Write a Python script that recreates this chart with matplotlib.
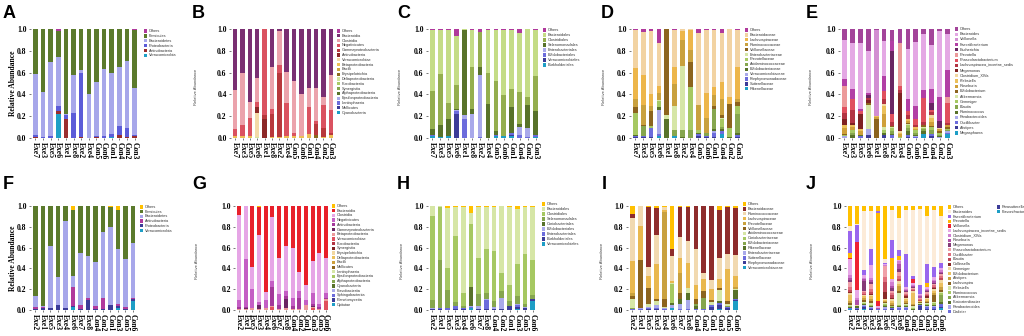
import matplotlib
matplotlib.use('Agg')
import matplotlib.pyplot as plt
from matplotlib.patches import Rectangle
import numpy as np

W, H = 1024, 336

# sample order, top row and bottom row
samples_top = ['Exe7', 'Exe3', 'Exe5', 'Exe6', 'Exe1', 'Exe8', 'Exe2', 'Exe4',
               'Con5', 'Con6', 'Con1', 'Con4', 'Con2', 'Con3']
samples_bot = ['Exe2', 'Exe1', 'Exe5', 'Exe3', 'Exe4', 'Exe6', 'Exe7', 'Exe8',
               'Con4', 'Con2', 'Con1', 'Con3', 'Con5', 'Con6']

# ---------------- A: phylum (top row) ----------------
a_cats = ['Others', 'Firmicutes', 'Bacteroidetes', 'Proteobacteria', 'Actinobacteria', 'Verrucomicrobia']
a_colors = ['#B0399C', '#5B7A2C', '#A7A7EA', '#5C5CD8', '#9A2E2E', '#1EA0C6']
a_vals = [
    [0, 0, 0, 0.02, 0, 0, 0, 0, 0, 0, 0, 0, 0, 0.01],
    [0.41, 0.58, 0.30, 0.24, 0.78, 0.42, 0.38, 0.60, 0.49, 0.37, 0.40, 0.35, 0.29, 0.53],
    [0.56, 0.41, 0.68, 0.45, 0.01, 0.35, 0.02, 0.40, 0.49, 0.61, 0.56, 0.54, 0.62, 0.43],
    [0.02, 0.01, 0.02, 0.04, 0.04, 0.23, 0.59, 0, 0.01, 0.02, 0.03, 0.08, 0.08, 0.01],
    [0.01, 0, 0, 0.03, 0.17, 0, 0.01, 0, 0.01, 0, 0, 0.03, 0.01, 0.02],
    [0, 0, 0, 0.22, 0, 0, 0, 0, 0, 0, 0.01, 0, 0, 0],
]

# ---------------- B: class (top row) ----------------
b_cats = ['Others', 'Bacteroidia', 'Clostridia', 'Negativicutes', 'Gammaproteobacteria',
          'Actinobacteria', 'Verrucomicrobiae', 'Betaproteobacteria', 'Bacilli',
          'Erysipelotrichia', 'Deltaproteobacteria', 'Fusobacteriia', 'Synergistia',
          'Alphaproteobacteria', 'Epsilonproteobacteria', 'Lentisphaeria', 'Mollicutes',
          'Cyanobacteria']
b_colors = ['#B0399C', '#7A2F72', '#EBA3AC', '#DA5260', '#B8383C', '#8C2828', '#F3DAA8',
            '#EDBE55', '#CFA640', '#8C6A1E', '#D2E4A0', '#AACA66', '#86A64E', '#58722A',
            '#A9A9EA', '#6C6CDC', '#3C3C98', '#1E9EC6']
b_zero = [0] * 14
b_vals = [
    b_zero,
    [0.56, 0.40, 0.67, 0.45, 0, 0.35, 0.02, 0.39, 0.48, 0.60, 0.54, 0.54, 0.62, 0.42],
    [0.36, 0.48, 0.15, 0.22, 0, 0.38, 0.31, 0.29, 0.47, 0.38, 0.18, 0.30, 0.08, 0.32],
    [0.06, 0.10, 0.16, 0.05, 0.79, 0.05, 0.07, 0.30, 0.03, 0, 0.24, 0.03, 0.21, 0.21],
    [0, 0, 0, 0, 0.04, 0.21, 0.59, 0, 0, 0, 0, 0.10, 0.08, 0.02],
    [0, 0, 0, 0.05, 0.17, 0, 0, 0, 0, 0, 0, 0, 0, 0],
    [0, 0, 0, 0.22, 0, 0, 0, 0, 0, 0, 0, 0, 0, 0],
    [0.02, 0.02, 0.02, 0, 0, 0.01, 0.01, 0.02, 0.02, 0.02, 0.04, 0, 0.01, 0.03],
    b_zero,
    [0, 0, 0, 0, 0, 0, 0, 0, 0, 0, 0, 0.03, 0, 0],
    [0, 0, 0, 0.01, 0, 0, 0, 0, 0, 0, 0, 0, 0, 0],
    b_zero, b_zero, b_zero, b_zero, b_zero, b_zero, b_zero,
]

# ---------------- C: order (top row) ----------------
c_cats = ['Others', 'Bacteroidales', 'Clostridiales', 'Selenomonadales', 'Enterobacteriales',
          'Bifidobacteriales', 'Verrucomicrobiales', 'Burkholderiales']
c_colors = ['#B0399C', '#C4DC86', '#94AE4E', '#58722A', '#A9A9EA', '#6C6CDC', '#3C3C98', '#1E9EC6']
c_vals = [
    [0.01, 0.01, 0.01, 0.06, 0, 0.01, 0.03, 0.01, 0.01, 0.01, 0.01, 0.04, 0, 0.01],
    [0.56, 0.40, 0.67, 0.45, 0.01, 0.34, 0, 0.39, 0.47, 0.60, 0.54, 0.54, 0.62, 0.42],
    [0.35, 0.47, 0.15, 0.22, 0, 0.38, 0.32, 0.29, 0.46, 0.37, 0.17, 0.29, 0.08, 0.32],
    [0.05, 0.11, 0.15, 0.01, 0.78, 0.05, 0.07, 0.31, 0.03, 0, 0.23, 0.03, 0.21, 0.22],
    [0, 0, 0, 0.01, 0.04, 0.22, 0.57, 0, 0, 0, 0, 0.07, 0.08, 0],
    [0.01, 0, 0, 0.03, 0.17, 0, 0.01, 0, 0.01, 0, 0.02, 0.03, 0.01, 0.02],
    [0, 0, 0, 0.22, 0, 0, 0, 0, 0, 0, 0.01, 0, 0, 0],
    [0.02, 0.01, 0.02, 0, 0, 0, 0, 0, 0.02, 0.02, 0.02, 0, 0, 0.01],
]

# ---------------- D: family (top row) ----------------
d_cats = ['Others', 'Bacteroidaceae', 'Lachnospiraceae', 'Ruminococcaceae', 'Veillonellaceae',
          'Enterobacteriaceae', 'Prevotellaceae', 'Acidaminococcaceae', 'Bifidobacteriaceae',
          'Verrucomicrobiaceae', 'Porphyromonadaceae', 'Sutterellaceae', 'Rikenellaceae']
d_colors = ['#B0399C', '#F2D3A2', '#EDB64A', '#C9A13E', '#8C641E', '#D6E6A6', '#A6C862',
            '#86A64E', '#58722A', '#A9A9EA', '#6C6CDC', '#3C3C98', '#1E9EC6']
d_vals = [
    [0.01, 0.03, 0.02, 0.13, 0, 0.01, 0, 0, 0.04, 0.01, 0.01, 0.04, 0, 0.01],
    [0.35, 0.39, 0.58, 0.39, 0, 0.34, 0.02, 0.01, 0.66, 0.58, 0.52, 0.45, 0.62, 0.34],
    [0.28, 0.28, 0.11, 0.07, 0, 0.15, 0.08, 0.18, 0, 0.23, 0.08, 0.15, 0.07, 0.29],
    [0.08, 0.18, 0.04, 0.06, 0, 0.21, 0.24, 0.11, 0.23, 0.13, 0.10, 0.15, 0, 0.03],
    [0.05, 0.01, 0.14, 0, 0.79, 0, 0, 0.23, 0, 0, 0.02, 0.03, 0.22, 0.04],
    [0, 0, 0, 0.01, 0.04, 0.22, 0.59, 0, 0, 0, 0, 0.01, 0, 0],
    [0.20, 0, 0.02, 0.06, 0, 0, 0, 0.40, 0.02, 0, 0, 0.07, 0.08, 0.07],
    [0, 0.09, 0, 0, 0, 0.05, 0.06, 0.07, 0, 0.03, 0.19, 0.02, 0, 0.17],
    [0.01, 0, 0, 0.02, 0.17, 0, 0.01, 0, 0.01, 0, 0.02, 0.02, 0.01, 0.02],
    [0, 0, 0, 0.22, 0, 0, 0, 0, 0, 0, 0.01, 0, 0, 0],
    [0.01, 0.01, 0.08, 0.02, 0, 0, 0, 0, 0.02, 0.01, 0.04, 0.02, 0, 0.02],
    [0.01, 0.01, 0.01, 0, 0, 0, 0, 0, 0.02, 0.01, 0.01, 0, 0, 0.01],
    [0, 0, 0, 0.02, 0, 0.02, 0, 0, 0, 0, 0, 0.04, 0, 0],
]

# ---------------- E: genus (top row) ----------------
e_cats = ['Others', 'Bacteroides', 'Veillonella', 'Faecalibacterium', 'Escherichia', 'Prevotella',
          'Phascolarctobacterium', 'Lachnospiracea_incertae_sedis', 'Megamonas', 'Clostridium_XlVa',
          'Klebsiella', 'Roseburia', 'Bifidobacterium', 'Akkermansia', 'Gemmiger', 'Blautia',
          'Ruminococcus', 'Parabacteroides', 'Oscillibacter', 'Alistipes', 'Megasphaera']
e_colors = ['#A3449A', '#E4A8E4', '#D28ED2', '#B23FA5', '#6A2563', '#EC9A9A', '#E0505E',
            '#B23442', '#7E2222', '#F2D8A0', '#EBC05A', '#CFA03A', '#8C641E', '#D6E6A6',
            '#A6C862', '#86A64E', '#58722A', '#A9A9EA', '#6C6CDC', '#3C3C98', '#1E9EC6']
e_vals = [
    [0.10, 0.13, 0.13, 0.20, 0.01, 0.11, 0.10, 0.13, 0.18, 0.12, 0.05, 0.15, 0.02, 0.05],
    [0.36, 0.42, 0.60, 0.39, 0, 0.32, 0, 0, 0.46, 0.59, 0.51, 0.40, 0.60, 0.33],
    [0, 0, 0, 0, 0.79, 0, 0, 0, 0, 0, 0, 0, 0, 0],
    [0.06, 0.09, 0.02, 0.02, 0, 0.14, 0.09, 0, 0.11, 0.12, 0.07, 0.13, 0.22, 0.24],
    [0, 0, 0, 0.02, 0, 0, 0.58, 0, 0, 0, 0, 0.06, 0.07, 0],
    [0.20, 0, 0, 0, 0, 0, 0, 0.39, 0, 0, 0, 0, 0, 0.06],
    [0.05, 0.10, 0.03, 0, 0, 0.07, 0.07, 0.04, 0.04, 0.05, 0.22, 0.02, 0, 0.18],
    [0.06, 0.12, 0, 0.02, 0, 0.05, 0.04, 0.03, 0.04, 0.02, 0.03, 0.03, 0, 0.02],
    [0.05, 0.02, 0.14, 0.03, 0, 0, 0, 0.35, 0, 0, 0, 0, 0, 0],
    [0, 0, 0, 0, 0, 0.02, 0, 0.01, 0, 0, 0, 0.03, 0.01, 0],
    [0.03, 0.02, 0.02, 0, 0.01, 0.07, 0, 0.01, 0.01, 0.02, 0, 0.03, 0, 0],
    [0.05, 0.03, 0.03, 0, 0.02, 0.12, 0, 0.03, 0.02, 0.01, 0, 0.04, 0.02, 0.02],
    [0.01, 0, 0, 0.02, 0.17, 0, 0.01, 0, 0.01, 0, 0.02, 0.01, 0.01, 0.02],
    [0, 0, 0, 0.22, 0, 0.03, 0.01, 0, 0.01, 0, 0.01, 0, 0, 0],
    [0.01, 0.02, 0, 0, 0, 0.02, 0.03, 0.01, 0.03, 0.02, 0.01, 0.03, 0.02, 0.01],
    [0, 0.02, 0, 0, 0, 0, 0.02, 0, 0.03, 0.02, 0.02, 0.03, 0.01, 0.01],
    [0, 0.03, 0.01, 0, 0, 0.02, 0.01, 0, 0.03, 0.01, 0.02, 0, 0.01, 0],
    [0.02, 0, 0, 0.05, 0, 0, 0, 0, 0, 0.01, 0, 0, 0.01, 0.01],
    [0, 0, 0.02, 0, 0, 0, 0.03, 0, 0.02, 0.01, 0, 0.02, 0, 0.01],
    [0, 0, 0, 0.03, 0, 0.03, 0, 0, 0.01, 0, 0, 0.02, 0, 0],
    [0, 0, 0, 0, 0, 0, 0, 0, 0, 0, 0.04, 0, 0, 0.04],
]

# ---------------- F: phylum (bottom row) ----------------
f_cats = ['Others', 'Firmicutes', 'Bacteroidetes', 'Actinobacteria', 'Proteobacteria', 'Verrucomicrobia']
f_colors = ['#FFC000', '#5B7A2C', '#A7A7EA', '#B0399C', '#3C3C98', '#1E9EC6']
f_vals = [
    [0, 0, 0, 0, 0, 0.04, 0, 0, 0, 0, 0.01, 0.04, 0, 0],
    [0.87, 0.96, 0.38, 0.68, 0.14, 0.63, 0.45, 0.48, 0.54, 0.25, 0.19, 0.37, 0.51, 0.36],
    [0.10, 0.01, 0.60, 0.27, 0.84, 0.11, 0.50, 0.40, 0.42, 0.63, 0.75, 0.53, 0.46, 0.52],
    [0.02, 0.01, 0, 0, 0, 0.18, 0.04, 0.02, 0.03, 0.11, 0, 0.02, 0.02, 0.01],
    [0.01, 0.02, 0.02, 0.05, 0.02, 0.01, 0.01, 0.10, 0.01, 0.01, 0.05, 0.02, 0.01, 0.02],
    [0, 0, 0, 0, 0, 0.03, 0, 0, 0, 0, 0, 0.02, 0, 0.09],
]

# ---------------- G: class (bottom row) ----------------
g_cats = ['Others', 'Bacteroidia', 'Clostridia', 'Negativicutes', 'Actinobacteria',
          'Gammaproteobacteria', 'Betaproteobacteria', 'Verrucomicrobiae', 'Fusobacteriia',
          'Synergistia', 'Erysipelotrichia', 'Deltaproteobacteria', 'Bacilli', 'Mollicutes',
          'Lentisphaeria', 'Epsilonproteobacteria', 'Alphaproteobacteria', 'Cyanobacteria',
          'Flavobacteriia', 'Sphingobacteriia', 'Planctomycetia', 'Opitutae']
g_colors = ['#FFC000', '#E8202A', '#E6A6E6', '#C45EC4', '#A3389A', '#6A2563', '#EC9A9A',
            '#E0505E', '#B23442', '#7E2222', '#F2D8A0', '#EBC05A', '#CFA03A', '#8C641E',
            '#D6E6A6', '#A6C862', '#86A64E', '#58722A', '#A9A9EA', '#6C6CDC', '#3C3C98', '#1E9EC6']
g_zero = [0] * 14
g_vals = [
    [0, 0, 0, 0.01, 0, 0, 0, 0, 0, 0, 0, 0, 0, 0],
    [0.09, 0, 0.59, 0.27, 0.83, 0.11, 0.50, 0.38, 0.40, 0.63, 0.76, 0.53, 0.45, 0.50],
    [0.81, 0.51, 0.21, 0.64, 0.07, 0.61, 0.35, 0.44, 0.48, 0.19, 0.14, 0.31, 0.49, 0.34],
    [0.07, 0.46, 0.18, 0.03, 0.08, 0.06, 0.10, 0.05, 0.08, 0.06, 0.05, 0.10, 0.03, 0.04],
    [0.02, 0.01, 0, 0, 0, 0.18, 0.04, 0.02, 0.03, 0.11, 0, 0.02, 0.02, 0.01],
    [0, 0.01, 0, 0.04, 0, 0, 0, 0.09, 0, 0, 0, 0.01, 0, 0],
    [0.01, 0.01, 0.02, 0.01, 0.02, 0.01, 0.01, 0.02, 0.01, 0.01, 0.05, 0.01, 0.01, 0.02],
    [0, 0, 0, 0, 0, 0.03, 0, 0, 0, 0, 0, 0.02, 0, 0.09],
    g_zero, g_zero, g_zero, g_zero, g_zero, g_zero, g_zero, g_zero, g_zero, g_zero,
    g_zero, g_zero, g_zero, g_zero,
]

# ---------------- H: order (bottom row) ----------------
h_cats = ['Others', 'Bacteroidales', 'Clostridiales', 'Selenomonadales', 'Coriobacteriales',
          'Bifidobacteriales', 'Enterobacteriales', 'Burkholderiales', 'Verrucomicrobiales']
h_colors = ['#FFC000', '#D6E6A6', '#A6C862', '#86A64E', '#58722A', '#A9A9EA', '#6C6CDC', '#3C3C98', '#1E9EC6']
h_vals = [
    [0, 0.01, 0.02, 0.01, 0.01, 0.07, 0.01, 0.01, 0.01, 0, 0.01, 0.03, 0.01, 0.01],
    [0.10, 0.01, 0.58, 0.28, 0.83, 0.10, 0.49, 0.40, 0.42, 0.64, 0.75, 0.53, 0.45, 0.51],
    [0.80, 0.51, 0.21, 0.63, 0.12, 0.61, 0.35, 0.43, 0.48, 0.18, 0.15, 0.31, 0.48, 0.34],
    [0.08, 0.46, 0.17, 0.04, 0.02, 0, 0.11, 0.05, 0.06, 0.06, 0.05, 0.07, 0.03, 0.03],
    [0, 0, 0, 0, 0, 0.18, 0, 0, 0, 0, 0, 0, 0, 0],
    [0.01, 0, 0, 0, 0, 0.01, 0.03, 0.01, 0.02, 0.11, 0, 0.01, 0.01, 0],
    [0, 0.01, 0.02, 0.03, 0.01, 0.01, 0, 0.09, 0, 0, 0, 0.02, 0, 0],
    [0.01, 0.01, 0, 0.01, 0.01, 0, 0.01, 0.01, 0.01, 0.01, 0.04, 0.02, 0.02, 0.02],
    [0, 0, 0, 0, 0, 0.02, 0, 0, 0, 0, 0, 0.01, 0, 0.09],
]

# ---------------- I: family (bottom row) ----------------
i_cats = ['Others', 'Bacteroidaceae', 'Ruminococcaceae', 'Lachnospiraceae', 'Prevotellaceae',
          'Veillonellaceae', 'Acidaminococcaceae', 'Coriobacteriaceae', 'Bifidobacteriaceae',
          'Rikenellaceae', 'Enterobacteriaceae', 'Sutterellaceae', 'Porphyromonadaceae',
          'Verrucomicrobiaceae']
i_colors = ['#FFC000', '#8E2C2C', '#F1D9B0', '#E9B84E', '#C9A13E', '#8C641E', '#D6E6A6',
            '#A6C862', '#86A64E', '#58722A', '#A9A9EA', '#6C6CDC', '#3C3C98', '#1E9EC6']
i_vals = [
    [0.08, 0, 0.01, 0.02, 0.01, 0.41, 0.01, 0.01, 0, 0, 0, 0.04, 0.01, 0.02],
    [0.04, 0, 0.58, 0.26, 0, 0.07, 0.29, 0.33, 0.41, 0.64, 0.71, 0.46, 0.45, 0.45],
    [0.41, 0.19, 0.08, 0.28, 0.03, 0.24, 0.20, 0.21, 0.35, 0.06, 0.09, 0.20, 0.15, 0.20],
    [0.31, 0.33, 0.12, 0.33, 0.02, 0.02, 0.14, 0.24, 0.13, 0.12, 0.10, 0.09, 0.30, 0.11],
    [0.03, 0, 0, 0, 0.83, 0, 0.20, 0, 0, 0, 0, 0, 0, 0.02],
    [0.02, 0.46, 0.15, 0.02, 0.08, 0, 0.05, 0, 0.05, 0.06, 0.02, 0.02, 0.03, 0],
    [0.09, 0, 0.03, 0.04, 0.01, 0.01, 0, 0.05, 0, 0, 0.03, 0.10, 0.02, 0.01],
    [0, 0, 0, 0, 0, 0.18, 0, 0, 0, 0, 0, 0, 0, 0],
    [0.01, 0, 0, 0, 0, 0, 0, 0, 0.02, 0.11, 0, 0, 0.01, 0],
    [0, 0, 0, 0, 0, 0.02, 0.05, 0.06, 0.03, 0, 0, 0.02, 0, 0.08],
    [0, 0.01, 0.01, 0.03, 0.01, 0.03, 0.05, 0.09, 0, 0, 0, 0, 0, 0],
    [0.01, 0.01, 0.01, 0.01, 0.01, 0, 0.01, 0.01, 0.01, 0.01, 0.02, 0.02, 0.01, 0.01],
    [0, 0, 0.01, 0.01, 0, 0, 0, 0, 0, 0, 0.03, 0.04, 0.02, 0.01],
    [0, 0, 0, 0, 0, 0.02, 0, 0, 0, 0, 0, 0.01, 0, 0.09],
]

# ---------------- J: genus (bottom row) ----------------
j_cats = ['Others', 'Bacteroides', 'Faecalibacterium', 'Prevotella', 'Veillonella',
          'Lachnospiracea_incertae_sedis', 'Clostridium_XlVa', 'Roseburia', 'Megamonas',
          'Phascolarctobacterium', 'Oscillibacter', 'Blautia', 'Collinsella', 'Gemmiger',
          'Bifidobacterium', 'Alistipes', 'Lachnospira', 'Klebsiella', 'Ruminococcus',
          'Akkermansia', 'Fusicatenibacter', 'Parabacteroides', 'Dialister',
          'Parasutterella', 'Flavonifractor']
j_colors = ['#FFC000', '#FCEBD8', '#9966EE', '#FFB900', '#EE2233', '#E8A8E8', '#D07ED0',
            '#B050A8', '#853A78', '#F0A0A8', '#E07080', '#C04858', '#882828', '#F2D8A0',
            '#EBC060', '#C9A040', '#8C6420', '#D6E6A6', '#A6C862', '#86A64E', '#58722A',
            '#A9A9EA', '#6C6CDC', '#3C3C98', '#1E9EC6']
j_vals = [
    [0.19, 0.17, 0.05, 0.05, 0.05, 0.51, 0.04, 0.12, 0.04, 0.04, 0.03, 0.10, 0.04, 0.10],
    [0.05, 0.01, 0.57, 0.36, 0, 0.04, 0.29, 0.30, 0.42, 0.63, 0.73, 0.46, 0.55, 0.45],
    [0.21, 0.17, 0.04, 0.16, 0.02, 0.01, 0.17, 0.06, 0.32, 0.03, 0.09, 0.18, 0.09, 0.05],
    [0.05, 0, 0, 0, 0.84, 0, 0.20, 0.04, 0, 0, 0, 0.04, 0, 0],
    [0.01, 0.46, 0, 0, 0.05, 0, 0, 0, 0, 0.04, 0, 0, 0, 0],
    [0.15, 0.07, 0.03, 0.12, 0.02, 0.01, 0.03, 0.01, 0.02, 0.02, 0.01, 0.02, 0.03, 0.02],
    [0.03, 0.02, 0.01, 0.02, 0, 0.01, 0.04, 0.03, 0.01, 0.01, 0.01, 0.01, 0.01, 0.01],
    [0.02, 0.05, 0.02, 0.02, 0.01, 0, 0.02, 0.05, 0.01, 0.01, 0.01, 0.01, 0.02, 0.01],
    [0.02, 0, 0.10, 0.02, 0, 0, 0.03, 0.02, 0.01, 0.01, 0, 0.01, 0.01, 0.01],
    [0.05, 0, 0.01, 0.05, 0, 0.10, 0.02, 0.04, 0.02, 0.01, 0.01, 0.02, 0.01, 0.02],
    [0.03, 0, 0.02, 0.03, 0, 0.05, 0.02, 0.03, 0.01, 0.01, 0.01, 0.01, 0.02, 0.02],
    [0.02, 0, 0.01, 0.02, 0, 0.10, 0.02, 0.02, 0.01, 0.01, 0.01, 0.01, 0.01, 0.02],
    [0.01, 0, 0, 0.01, 0, 0.06, 0.01, 0, 0.01, 0, 0, 0.01, 0.01, 0],
    [0.02, 0.01, 0.01, 0.01, 0, 0.01, 0.02, 0.03, 0.01, 0.02, 0, 0.01, 0.02, 0.03],
    [0.05, 0, 0.01, 0.02, 0, 0.01, 0.02, 0.02, 0.02, 0.10, 0.01, 0.02, 0.02, 0.04],
    [0.02, 0, 0.02, 0.02, 0, 0.01, 0.02, 0.05, 0.02, 0.01, 0, 0.01, 0.02, 0.03],
    [0.02, 0, 0.02, 0.02, 0, 0.01, 0.01, 0.02, 0.01, 0.01, 0.01, 0.01, 0.06, 0.02],
    [0.01, 0, 0.01, 0.02, 0, 0.01, 0, 0.11, 0.01, 0.02, 0.01, 0.01, 0.01, 0.01],
    [0.01, 0, 0.01, 0.01, 0, 0.01, 0.01, 0.01, 0.01, 0.01, 0, 0.01, 0.02, 0.02],
    [0, 0, 0, 0, 0, 0.01, 0, 0, 0, 0, 0, 0, 0, 0.06],
    [0.01, 0.02, 0.01, 0.01, 0, 0.01, 0.01, 0.01, 0.01, 0.01, 0.01, 0.01, 0.01, 0.02],
    [0, 0, 0.01, 0.01, 0, 0.02, 0, 0.01, 0.01, 0, 0, 0.01, 0.01, 0],
    [0.01, 0.01, 0.01, 0.01, 0.01, 0.01, 0.01, 0.02, 0.02, 0, 0.01, 0.02, 0.02, 0.03],
    [0, 0.01, 0.02, 0.01, 0, 0, 0.01, 0, 0, 0, 0.04, 0.01, 0.01, 0.01],
    [0.01, 0, 0.01, 0, 0, 0, 0, 0, 0, 0, 0, 0, 0, 0.02],
]

serif = ['Liberation Serif', 'DejaVu Serif']
sans = ['Liberation Sans', 'DejaVu Sans']

fig = plt.figure(figsize=(W / 100, H / 100), dpi=100)
fig.patch.set_facecolor('white')


def fx(x):
    return x / W


def fy(y):
    return 1 - y / H


def draw_panel(bar_l, bar_r, top, bot, samples, cats, colors, vals,
               leg_x, leg_y, leg_dy, letter, let_xy, ylab_x, bold_ylab, ncol1=None):
    s = (bar_r - bar_l) / 13.6
    left = bar_l - 0.3 * s
    width = 14.2 * s
    ax = fig.add_axes([fx(left), fy(bot), width / W, (bot - top) / H])
    x = np.arange(len(samples))
    bottom = np.zeros(len(samples))
    # stack from the last legend entry upwards
    for cat, col, row in zip(cats[::-1], colors[::-1], vals[::-1]):
        row = np.array(row, dtype=float)
        ax.bar(x, row, bottom=bottom, width=0.6, color=col, linewidth=0)
        bottom += row
    ax.set_xlim(-0.6, 13.6)
    ax.set_ylim(0, 1.0)
    ax.set_yticks([0, 0.2, 0.4, 0.6, 0.8, 1.0])
    ax.set_yticklabels(['0.0', '0.2', '0.4', '0.6', '0.8', '1.0'],
                       fontfamily=serif, fontweight='bold', fontsize=5.5)
    ax.set_xticks(x)
    ax.set_xticklabels(samples, rotation=-90, fontfamily=serif, fontweight='bold', fontsize=5.5)
    for sp in ax.spines.values():
        sp.set_visible(False)
    ax.tick_params(axis='both', length=1.5, width=0.5, pad=1.5, color='#444444')
    ax.set_facecolor('none')

    # legend drawn by hand: small squares and tiny labels
    n1 = ncol1 if ncol1 else len(cats)
    for k, (cat, col) in enumerate(zip(cats, colors)):
        if k < n1:
            lx, ly = leg_x, leg_y + k * leg_dy
        else:
            lx, ly = leg_x + 49, leg_y + (k - n1) * leg_dy
        fig.add_artist(Rectangle((fx(lx), fy(ly + 1.6)), 3.2 / W, 3.2 / H,
                                 transform=fig.transFigure, color=col, lw=0))
        fig.text(fx(lx + 5), fy(ly), cat, fontsize=2.8, color='#333333',
                 va='center', ha='left', fontfamily=sans)

    fig.text(fx(let_xy[0]), fy(let_xy[1]), letter, fontsize=13, fontweight='bold',
             va='top', ha='left', fontfamily=sans)
    ymid = (top + bot) / 2
    if bold_ylab:
        fig.text(fx(ylab_x), fy(ymid), 'Relative Abundance', rotation=90, fontsize=5.5,
                 fontweight='bold', fontfamily=serif, va='center', ha='center')
    else:
        fig.text(fx(ylab_x), fy(ymid + 3), 'Relative Abundance', rotation=90, fontsize=3,
                 color='#444444', fontfamily=sans, va='center', ha='center')
    return ax


t1, b1 = 29, 138
t2, b2 = 206, 310

draw_panel(33, 137, t1, b1, samples_top, a_cats, a_colors, a_vals, 144, 31, 4.9, 'A', (3, 5), 13, True)
draw_panel(233, 333, t1, b1, samples_top, b_cats, b_colors, b_vals, 337, 31, 4.8, 'B', (192, 5), 196, False)
draw_panel(430, 538, t1, b1, samples_top, c_cats, c_colors, c_vals, 543, 30, 5.0, 'C', (397, 5), 400, False)
draw_panel(633, 740, t1, b1, samples_top, d_cats, d_colors, d_vals, 745, 30, 4.9, 'D', (601, 5), 604, False)
draw_panel(842, 950, t1, b1, samples_top, e_cats, e_colors, e_vals, 955, 29, 5.2, 'E', (806, 5), 811, False)

draw_panel(33, 135, t2, b2, samples_bot, f_cats, f_colors, f_vals, 140, 207, 4.7, 'F', (3, 176), 13, True)
draw_panel(237, 328, t2, b2, samples_bot, g_cats, g_colors, g_vals, 332, 206, 4.7, 'G', (192, 176), 197, False)
draw_panel(430, 535, t2, b2, samples_bot, h_cats, h_colors, h_vals, 542, 204, 5.0, 'H', (397, 176), 402, False)
draw_panel(630, 738, t2, b2, samples_bot, i_cats, i_colors, i_vals, 743, 204, 4.9, 'I', (602, 176), 602, False)
draw_panel(848, 943, t2, b2, samples_bot, j_cats, j_colors, j_vals, 948, 207, 4.76, 'J', (806, 176), 812, False,
           ncol1=23)

fig.savefig('out.png', dpi=100, facecolor='white')
